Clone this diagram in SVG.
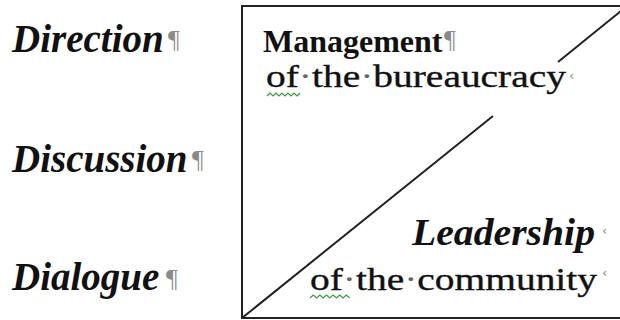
<svg xmlns="http://www.w3.org/2000/svg" width="620" height="320" viewBox="0 0 620 320">
<style>
.lbl{font-family:"Liberation Serif","Times New Roman",serif;font-weight:bold;font-style:italic;font-size:39px;fill:#111}
.reg{font-family:"Liberation Serif","Times New Roman",serif;font-size:32px;fill:#111;stroke:#111;stroke-width:0.35}
.bold{font-family:"Liberation Serif","Times New Roman",serif;font-weight:bold;font-size:32px;fill:#111}
.bi{font-family:"Liberation Serif","Times New Roman",serif;font-weight:bold;font-style:italic;font-size:37px;fill:#111}
.mark{font-family:"Liberation Serif","Times New Roman",serif;font-size:26px;fill:#8a8a8a}
.cell{font-family:"DejaVu Sans",sans-serif;font-size:13px;fill:#8a8a8a}
.dot{fill:#666;stroke:none}
.squig{fill:none;stroke:#3a9a3a;stroke-width:1.2}
.line{stroke:#222;stroke-width:2;fill:none}
</style>
<rect width="620" height="320" fill="#fff"/>
<g id="direction">
<text class="lbl" x="12" y="52">Direction</text>
<text class="mark" x="168" y="48">¶</text>
</g>
<g id="discussion">
<text class="lbl" x="12" y="172">Discussion</text>
<text class="mark" x="192" y="168">¶</text>
</g>
<g id="dialogue">
<text class="lbl" x="12" y="290">Dialogue</text>
<text class="mark" x="166" y="287">¶</text>
</g>
<g id="box">
<rect x="242" y="6" width="400" height="312" class="line"/>
</g>
<g id="management">
<text class="bold" x="263" y="52">Management</text>
<text class="mark" x="444" y="48">¶</text>
<text class="reg" x="266" y="87" textLength="300" lengthAdjust="spacingAndGlyphs">of<tspan class="dot">·</tspan>the<tspan class="dot">·</tspan>bureaucracy</text>
<text class="cell" x="569" y="80">‹</text>
<path class="squig" d="M267 96 l3 -3 l3 3 l3 -3 l3 3 l3 -3 l3 3 l3 -3 l3 3 l3 -3 l3 3 l3 -3"/>
</g>
<g id="leadership">
<text class="bi" x="412" y="245" textLength="183" lengthAdjust="spacingAndGlyphs">Leadership</text>
<text class="cell" x="602" y="235">‹</text>
<text class="reg" x="310" y="290" textLength="287" lengthAdjust="spacingAndGlyphs">of<tspan class="dot">·</tspan>the<tspan class="dot">·</tspan>community</text>
<text class="cell" x="602" y="277">‹</text>
<path class="squig" d="M310 298 l3.3 -3 l3.3 3 l3.3 -3 l3.3 3 l3.3 -3 l3.3 3 l3.3 -3 l3.3 3 l3.3 -3 l3.3 3 l3.3 -3 l3.3 3"/>
</g>
<g id="connectors">
<path class="line" d="M242 318 L493 116 M558 62 L627 6"/>
</g>
</svg>
